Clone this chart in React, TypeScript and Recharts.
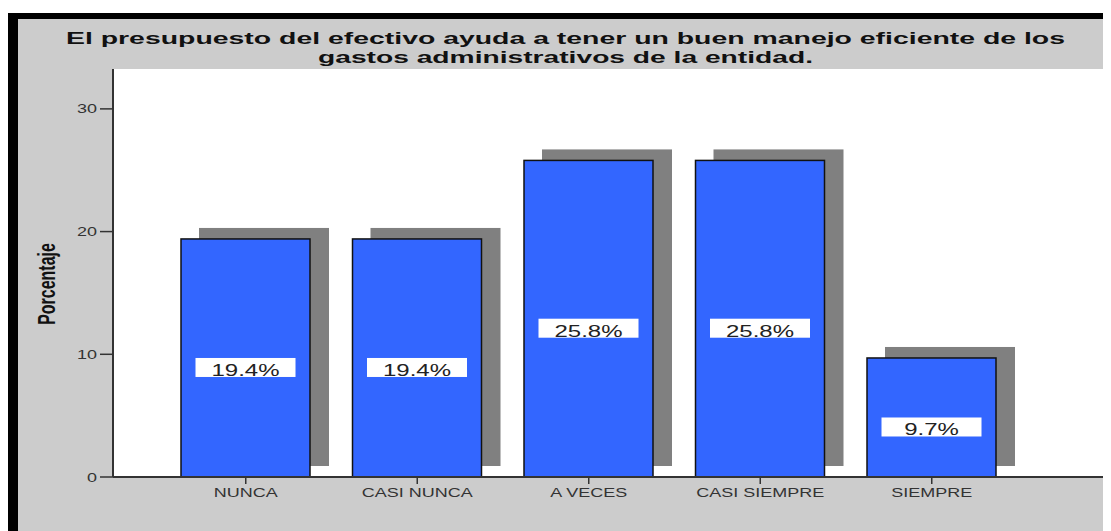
import React from 'react';
import { BarChart, Bar, XAxis, YAxis, CartesianGrid, LabelList } from 'recharts';

const categories = ['NUNCA', 'CASI NUNCA', 'A VECES', 'CASI SIEMPRE', 'SIEMPRE'];
const percentages = [19.4, 19.4, 25.8, 25.8, 9.7];
const yTicks = [0, 10, 20, 30];
const titleLines = [
  'El presupuesto del efectivo ayuda a tener un buen manejo eficiente de los',
  'gastos administrativos de la entidad.',
];
const yAxisTitle = 'Porcentaje';

const data = categories.map((c, i) => ({ cat: c, pct: percentages[i] }));

const FONT = '"Liberation Sans", Arial, Helvetica, sans-serif';
const STRETCH = 1.5;

const BarShape = (p: any) => {
  const { x, y, width, height } = p;
  if (width == null || height == null) return null;
  return (
    <g>
      <rect x={x + 18} y={y - 11} width={width + 1} height={height} fill="#808080" />
      <rect x={x} y={y} width={width} height={height} fill="#3366ff" stroke="#111" strokeWidth={1.5} />
    </g>
  );
};

const ValueLabel = (p: any) => {
  const { x, y, width, height, value } = p;
  const cx = x + width / 2;
  const cy = y + height / 2 + 10;
  return (
    <g>
      <rect x={cx - 50} y={cy - 10} width={100} height={19} fill="#ffffff" />
      <g transform={`translate(${cx},${cy + 8}) scale(${STRETCH},1)`}>
        <text x={0} y={0} textAnchor="middle" fontFamily={FONT} fontSize={16} fill="#222">
          {`${Number(value).toFixed(1)}%`}
        </text>
      </g>
    </g>
  );
};

const XTick = (p: any) => {
  const { x, y, payload } = p;
  return (
    <g transform={`translate(${x},${y + 13}) scale(${STRETCH},1)`}>
      <text x={0} y={0} textAnchor="middle" fontFamily={FONT} fontSize={12} fill="#333">
        {payload.value}
      </text>
    </g>
  );
};

const YTick = (p: any) => {
  const { x, y, payload } = p;
  return (
    <g transform={`translate(${x},${y + 4.5}) scale(${STRETCH},1)`}>
      <text x={0} y={0} textAnchor="end" fontFamily={FONT} fontSize={12} fill="#333">
        {payload.value}
      </text>
    </g>
  );
};

export default function App() {
  return (
    <div style={{ position: 'relative', width: 1103, height: 523, background: '#fff' }}>
      <div
        style={{
          position: 'absolute',
          left: 0,
          top: 5,
          width: 1103,
          height: 518,
          background: '#cccccc',
          borderTop: '6px solid #000',
          borderLeft: '10px solid #000',
          boxSizing: 'border-box',
        }}
      />
      <div style={{ position: 'absolute', left: 10, top: 11 }}>
        <BarChart
          width={1093}
          height={512}
          data={data}
          margin={{ top: 50, right: 0, bottom: 24, left: 0 }}
          barSize={129}
        >
          <CartesianGrid horizontal={false} vertical={false} fill="#ffffff" stroke="none" />
          <XAxis
            dataKey="cat"
            padding={{ left: 47, right: 93.5 }}
            tickSize={7}
            tickMargin={0}
            tick={<XTick />}
            axisLine={{ stroke: '#333', strokeWidth: 2 }}
            tickLine={{ stroke: '#333', strokeWidth: 1.5 }}
            height={30}
            interval={0}
          />
          <YAxis
            width={95}
            domain={[0, 33.25]}
            ticks={yTicks}
            tickSize={13}
            tickMargin={3}
            tick={<YTick />}
            axisLine={{ stroke: '#333', strokeWidth: 2 }}
            tickLine={{ stroke: '#333', strokeWidth: 1.5 }}
            allowDataOverflow
          />
          <Bar dataKey="pct" isAnimationActive={false} shape={<BarShape />}>
            <LabelList dataKey="pct" content={<ValueLabel />} />
          </Bar>
        </BarChart>
      </div>
      <svg
        width={1103}
        height={523}
        style={{ position: 'absolute', left: 0, top: 0, pointerEvents: 'none' }}
      >
        <text
          x={565.5 - 8}
          y={43.5 - 8}
          textAnchor="middle"
          fontFamily={FONT}
          fontWeight="bold"
          fontSize={17}
          fill="#111"
          textLength={999}
          lengthAdjust="spacingAndGlyphs"
        >
          {titleLines[0]}
        </text>
        <text
          x={565.5 - 8}
          y={62.5 - 8}
          textAnchor="middle"
          fontFamily={FONT}
          fontWeight="bold"
          fontSize={17}
          fill="#111"
          textLength={495}
          lengthAdjust="spacingAndGlyphs"
        >
          {titleLines[1]}
        </text>
        <g transform={`translate(${55 - 8},${284 - 8}) scale(${STRETCH},1) rotate(-90)`}>
          <text x={0} y={0} textAnchor="middle" fontFamily={FONT} fontWeight="bold" fontSize={16} fill="#111">
            {yAxisTitle}
          </text>
        </g>
      </svg>
    </div>
  );
}
